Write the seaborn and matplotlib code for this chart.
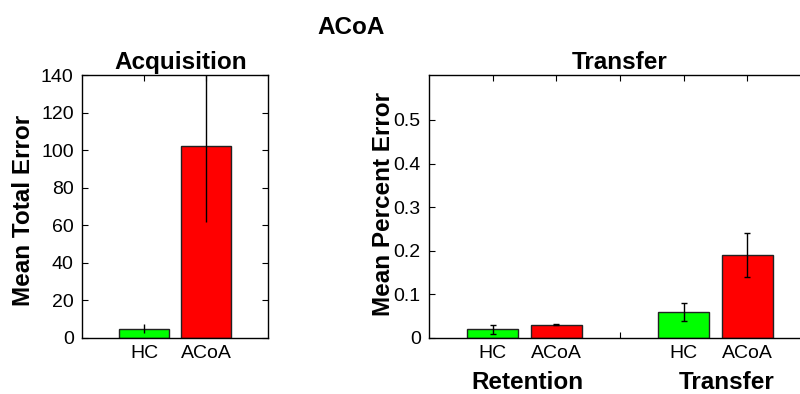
import matplotlib
matplotlib.use("Agg")
import matplotlib.pyplot as plt
import matplotlib.transforms as mtransforms
import seaborn as sns
import pandas as pd
import numpy as np

sns.set_style("ticks")
plt.rcParams['font.family'] = ['Liberation Sans', 'DejaVu Sans']
plt.rcParams['text.color'] = 'black'
plt.rcParams['axes.labelcolor'] = 'black'
plt.rcParams['xtick.color'] = 'black'
plt.rcParams['ytick.color'] = 'black'

groups = ["HC", "ACoA"]
colors = {"HC": "#00ff00", "ACoA": "#ff0000"}

acq_means = [5, 102]
acq_errs = [2.5, 40]

conditions = ["Retention", "Transfer"]
tr_means = [[0.02, 0.03], [0.06, 0.19]]
tr_errs = [[0.01, 0.001], [0.02, 0.05]]

BIG = 17.5
TICK = 14

fig = plt.figure(figsize=(8, 3.94), dpi=100)
ax1 = fig.add_axes([82/800, 56/394, 186/800, 263/394])
ax2 = fig.add_axes([429/800, 56/394, 382/800, 263/394])

# Acquisition
df1 = pd.DataFrame({"pos": [1, 2], "val": acq_means, "grp": groups})
sns.barplot(data=df1, x="pos", y="val", hue="grp", palette=colors, native_scale=True,
            dodge=False, legend=False, width=0.8, edgecolor="#222222", linewidth=1,
            saturation=1, errorbar=None, ax=ax1)
ax1.errorbar(df1["pos"], df1["val"], yerr=acq_errs, fmt="none", ecolor="black",
             elinewidth=1, capsize=0)
ax1.set_xlim(0, 3)
ax1.set_ylim(0, 140)
ax1.set_yticks(np.arange(0, 141, 20))
ax1.set_xticks([1, 2])
ax1.set_xticklabels(groups)
ax1.set_xlabel("")
ax1.set_ylabel("Mean Total Error", fontsize=BIG, fontweight="bold")
ax1.yaxis.set_label_coords(-0.25, 0.485)
ax1.set_title("Acquisition", fontsize=BIG, fontweight="bold", pad=4, x=0.532)

# Transfer
pos, vals, errs, grps = [], [], [], []
for i, c in enumerate(conditions):
    for j, g in enumerate(groups):
        pos.append(i * 3 + j + 1)
        vals.append(tr_means[i][j])
        errs.append(tr_errs[i][j])
        grps.append(g)
df2 = pd.DataFrame({"pos": pos, "val": vals, "grp": grps})
sns.barplot(data=df2, x="pos", y="val", hue="grp", palette=colors, native_scale=True,
            dodge=False, legend=False, width=0.8, edgecolor="#222222", linewidth=1,
            saturation=1, errorbar=None, ax=ax2)
ax2.errorbar(df2["pos"], df2["val"], yerr=errs, fmt="none", ecolor="black",
             elinewidth=1, capsize=2)
ax2.set_xlim(0, 6)
ax2.set_ylim(0, 0.603)
ax2.set_yticks([0, 0.1, 0.2, 0.3, 0.4, 0.5])
ax2.set_yticklabels(["0", "0.1", "0.2", "0.3", "0.4", "0.5"])
ax2.set_xticks([1, 2, 3, 4, 5])
ax2.set_xticklabels(["HC", "ACoA", "", "HC", "ACoA"])
ax2.set_xlabel("")
ax2.set_ylabel("Mean Percent Error", fontsize=BIG, fontweight="bold")
ax2.yaxis.set_label_coords(-0.088, 0.51)
ax2.set_title("Transfer", fontsize=BIG, fontweight="bold", pad=4)
trans = mtransforms.blended_transform_factory(ax2.transData, ax2.transAxes)
label_x = [1.55, 4.67]
for i, c in enumerate(conditions):
    ax2.text(label_x[i], -0.171, c, ha="center", va="center", fontsize=BIG,
             fontweight="bold", transform=trans)

for ax in (ax1, ax2):
    for s in ax.spines.values():
        s.set_visible(True)
        s.set_linewidth(1)
        s.set_color("black")
    ax.tick_params(direction="in", top=True, right=True, length=4, width=0.8,
                   labelsize=TICK)
    ax.tick_params(axis="y", pad=6)
    ax.tick_params(axis="x", pad=5)

fig.text(351/800, 1 - 27/394, "ACoA", ha="center", va="center", fontsize=BIG,
         fontweight="bold")

fig.savefig("out.png", dpi=100)
